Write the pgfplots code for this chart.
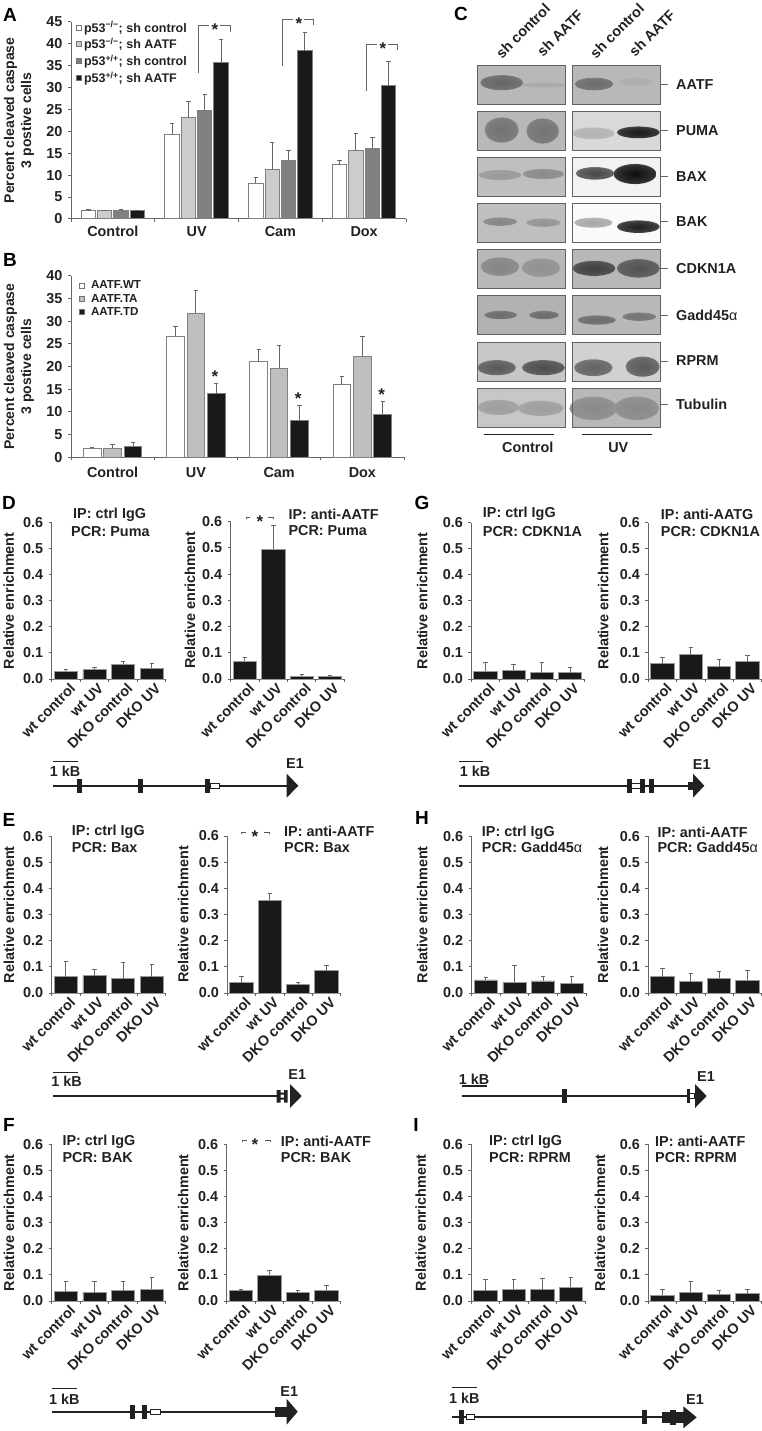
\documentclass[border=0pt]{standalone}
\usepackage{fontspec}
\setmainfont{Liberation Sans}
\usepackage{pgfplots}
\pgfplotsset{compat=1.18}
\newcommand\fa{\bfseries\fontsize{14.4}{16}\selectfont}
\newcommand\fb{\bfseries\fontsize{14}{17}\selectfont}
\definecolor{ink}{gray}{0.13}
\definecolor{axl}{gray}{0.4}
\definecolor{bar}{gray}{0.1}
\pgfplotsset{
 base/.style={scale only axis,anchor=south west,
  axis x line*=bottom,axis y line*=left,
  axis line style={axl,line width=1pt,-},
  tick style={axl,line width=1pt},tick align=outside,
  major tick length=3pt,minor tick length=3pt,
  major x tick style={draw=none},
  xmin=0,xmax=4,xtick={0.5,1.5,2.5,3.5},minor xtick={0,1,2,3,4},
  tick label style={font=\fa,text=ink},
  label style={text=ink},
  /pgf/number format/assume math mode=true,
  ylabel style={at={(axis description cs:0,0.5)},anchor=center,rotate=0},
  yticklabel style={xshift=-2pt},
  clip=false,ybar,
  error bars/y dir=plus,error bars/y explicit,
  error bars/error bar style={black!60,line width=1pt},
  error bars/error mark options={rotate=90,black!60,mark size=2.2pt,line width=1pt},
 },
 enrich/.style={base,ymin=0,ymax=0.6,ytick={0,0.1,0.2,0.3,0.4,0.5,0.6},
  /pgf/number format/fixed,/pgf/number format/fixed zerofill,/pgf/number format/precision=1,
  ylabel={Relative enrichment},ylabel style={font=\fa},
  xticklabels={wt control,wt UV,DKO control,DKO UV},
  xticklabel style={rotate=45,anchor=north east,inner sep=1pt,xshift=3pt,yshift=-1pt},
  bar width=23.3pt,
 },
 bars/.style={base,ylabel style={font=\fb,align=center},
  xticklabels={Control,UV,Cam,Dox},
  xticklabel style={yshift=-1pt},
  /pgf/number format/fixed,
  legend image code/.code={\draw[##1,draw=black!55,line width=.8pt] (0pt,-2.5pt) rectangle (5pt,2.5pt);},
 },
 barplot/.style={draw=black!50,line width=1pt},
}
\newcommand\enr[6]{\begin{axis}[enrich,at={(#1pt,-#2pt)},width=#3pt,height=#4pt,ylabel style={yshift=#5pt}]
 \addplot[fill=bar,draw=black!40,line width=.8pt] coordinates {#6};
\end{axis}}
% panel C shading
\pgfdeclareradialshading[bandin,bandout]{band}{\pgfpoint{0bp}{0bp}}{color(0bp)=(bandin); color(22bp)=(bandin!85!bandout); color(38bp)=(bandin!35!bandout); color(49bp)=(bandout); color(50bp)=(bandout)}
\newcommand\bx[3]{\fill[black!#3] ({450+#1/3},{#2/3}) rectangle ({450+(#1+264)/3},{(#2+116)/3});}
\newcommand\fr[2]{\draw[black!62,line width=1pt] ({450+#1/3},{#2/3}) rectangle ({450+(#1+264)/3},{(#2+116)/3});}
\newcommand\bd[6]{\colorlet{bandin}{black!#5}\colorlet{bandout}{black!#6}%
 \shade[shading=band] ({450+#1/3},{#2/3}) ellipse [x radius={#3*0.37pt},y radius={#4*0.42pt}];}
\newcommand\ex[2]{\fill[ink] (#1-2.5,#2-7) rectangle (#1+2.5,#2+7);}
\newcommand\obx[3]{\draw[ink,fill=white,line width=1pt] (#1,#3-2.5) rectangle (#2,#3+2.5);}
\newcommand\hd[4]{\fill[ink] (#1,#3-#4)--(#2,#3)--(#1,#3+#4)--cycle;}
\newcommand\gl[3]{\draw[ink,line width=1.7pt] (#1,#3)--(#2,#3);}
\newcommand\scl[3]{\draw[ink,line width=1.2pt] (#1,#3)--(#2,#3);}
\newcommand\lb[3]{\node[font=\fa,text=ink,inner sep=0pt] at (#1,#2) {#3};}
\newcommand\lw[3]{\node[font=\fa,text=ink,inner sep=0pt,anchor=west] at (#1,#2) {#3};}
\newcommand\stt[2]{\node[font=\bfseries\fontsize{17}{17}\selectfont,text=ink,inner sep=0pt] at (#1,#2+3) {*};}
\newcommand\pl[3]{\node[font=\bfseries\fontsize{19}{19}\selectfont,text=black,inner sep=0pt] at (#1,#2) {#3};}
\newcommand\brk[3]{\draw[black!65,line width=.9pt] (#1,#3+2)--(#1,#3)--(#1+4,#3) (#2-5,#3)--(#2,#3)--(#2,#3+2);}
\begin{document}
\begin{tikzpicture}
\path[use as bounding box] (0pt,0pt) rectangle (762pt,-1431pt);
% A
\begin{axis}[bars,at={(71pt,-219pt)},width=335pt,height=197.3pt,ymin=0,ymax=45,
  ytick={0,5,10,15,20,25,30,35,40,45},ylabel style={yshift=52pt},
  ylabel={Percent cleaved caspase\\3 postive cells},bar width=14.3pt,
  legend style={at={(5pt,200pt)},anchor=north west,draw=none,fill=none,inner sep=0pt,
   /tikz/every odd column/.append style={column sep=2pt},
   nodes={font=\bfseries\fontsize{12.5}{13}\selectfont,text=ink,minimum height=16.8pt,inner sep=0pt,anchor=west}},
  legend cell align=left]
\addplot[barplot,fill=white,bar shift=-24.5pt] coordinates {(0.5,2) +- (0,0.1) (1.5,19.2) +- (0,2.5) (2.5,8.2) +- (0,1.3) (3.5,12.4) +- (0,1.05)};
\addplot[barplot,fill=black!20,bar shift=-8.2pt] coordinates {(0.5,1.9) +- (0,0.1) (1.5,23.2) +- (0,3.6) (2.5,11.3) +- (0,6.1) (3.5,15.6) +- (0,3.8)};
\addplot[barplot,fill=black!50,bar shift=8.2pt] coordinates {(0.5,1.9) +- (0,0.3) (1.5,24.7) +- (0,3.8) (2.5,13.4) +- (0,2.3) (3.5,16.1) +- (0,2.5)};
\addplot[barplot,fill=bar,bar shift=24.5pt] coordinates {(0.5,1.9) +- (0,0.15) (1.5,35.7) +- (0,5.3) (2.5,38.4) +- (0,4.2) (3.5,30.5) +- (0,5.5)};
\legend{p53\textsuperscript{−/−}; sh control,p53\textsuperscript{−/−}; sh AATF,p53\textsuperscript{+/+}; sh control,p53\textsuperscript{+/+}; sh AATF}
\end{axis}
% B
\begin{axis}[bars,at={(71pt,-457.3pt)},width=333pt,height=181.6pt,ymin=0,ymax=40,
  ytick={0,5,10,15,20,25,30,35,40},ylabel style={yshift=52pt},
  xticklabel style={yshift=-2.5pt},
  ylabel={Percent cleaved caspase\\3 postive cells},bar width=17.7pt,
  legend style={at={(8pt,178.5pt)},anchor=north west,draw=none,fill=none,inner sep=0pt,
   /tikz/every odd column/.append style={column sep=6pt},
   nodes={font=\bfseries\fontsize{11.6}{11.6}\selectfont,text=ink,minimum height=13.3pt,inner sep=0pt,anchor=west}},
  legend cell align=left]
\addplot[barplot,fill=white,bar shift=-20.4pt] coordinates {(0.5,2) +- (0,0.2) (1.5,26.7) +- (0,2.1) (2.5,21.1) +- (0,2.6) (3.5,16) +- (0,1.9)};
\addplot[barplot,fill=black!25,bar shift=0pt] coordinates {(0.5,2) +- (0,0.9) (1.5,31.7) +- (0,5.1) (2.5,19.6) +- (0,5) (3.5,22.1) +- (0,4.4)};
\addplot[barplot,fill=bar,bar shift=20.4pt] coordinates {(0.5,2.4) +- (0,0.9) (1.5,14) +- (0,2.2) (2.5,8) +- (0,3.5) (3.5,9.5) +- (0,2.7)};
\legend{AATF.WT,AATF.TA,AATF.TD}
\end{axis}
% D
\enr{51.7}{679}{114.3}{156.3}{43}{(0.5,0.03) +- (0,0.007) (1.5,0.036) +- (0,0.009) (2.5,0.056) +- (0,0.012) (3.5,0.042) +- (0,0.016)}
\enr{230.7}{679}{113.6}{157.3}{40.7}{(0.5,0.068) +- (0,0.015) (1.5,0.495) +- (0,0.09) (2.5,0.01) +- (0,0.009) (3.5,0.01) +- (0,0.005)}
% G
\enr{471.3}{679}{113}{156.3}{49}{(0.5,0.03) +- (0,0.032) (1.5,0.034) +- (0,0.022) (2.5,0.024) +- (0,0.04) (3.5,0.024) +- (0,0.02)}
\enr{648.3}{679}{113.4}{156.3}{45}{(0.5,0.058) +- (0,0.025) (1.5,0.094) +- (0,0.026) (2.5,0.047) +- (0,0.029) (3.5,0.066) +- (0,0.024)}
% E
\enr{51.7}{993}{114.3}{156.7}{42.7}{(0.5,0.062) +- (0,0.06) (1.5,0.067) +- (0,0.023) (2.5,0.055) +- (0,0.06) (3.5,0.062) +- (0,0.048)}
\enr{227.3}{993}{113.4}{157}{44}{(0.5,0.04) +- (0,0.022) (1.5,0.354) +- (0,0.026) (2.5,0.032) +- (0,0.008) (3.5,0.086) +- (0,0.021)}
% H
\enr{471.7}{993}{114.3}{156.7}{49.4}{(0.5,0.05) +- (0,0.01) (1.5,0.042) +- (0,0.064) (2.5,0.046) +- (0,0.019) (3.5,0.036) +- (0,0.027)}
\enr{648.3}{993}{113.4}{156.7}{45.3}{(0.5,0.062) +- (0,0.033) (1.5,0.044) +- (0,0.032) (2.5,0.056) +- (0,0.027) (3.5,0.048) +- (0,0.037)}
% F
\enr{51.7}{1301}{114.3}{156.7}{42.7}{(0.5,0.036) +- (0,0.038) (1.5,0.032) +- (0,0.041) (2.5,0.04) +- (0,0.033) (3.5,0.046) +- (0,0.044)}
\enr{226.7}{1301}{114}{156.7}{43.4}{(0.5,0.04) +- (0,0.006) (1.5,0.098) +- (0,0.019) (2.5,0.032) +- (0,0.01) (3.5,0.042) +- (0,0.016)}
% I
\enr{471.3}{1301}{113.7}{156.7}{50.6}{(0.5,0.04) +- (0,0.042) (1.5,0.046) +- (0,0.037) (2.5,0.044) +- (0,0.041) (3.5,0.052) +- (0,0.038)}
\enr{648.3}{1301}{113.4}{156.7}{48.3}{(0.5,0.022) +- (0,0.024) (1.5,0.034) +- (0,0.042) (2.5,0.026) +- (0,0.016) (3.5,0.028) +- (0,0.018)}
\begin{scope}[x=1pt,y=-1pt]
% letters
\pl{10}{15}{A}\pl{10}{260}{B}\pl{461}{14}{C}\pl{9}{503}{D}\pl{9}{820}{E}\pl{9}{1125}{F}
\pl{422}{503}{G}\pl{422}{818}{H}\pl{416}{1125}{I}
% brackets A
\draw[black!60,line width=.9pt] (198.7,72.7)--(198.7,25)--(209.3,25) (220,25)--(230,25)--(230,31.7);
\draw[black!60,line width=.9pt] (282.7,66)--(282.7,19.3)--(293,19.3) (304,19.3)--(313.3,19.3)--(313.3,25);
\draw[black!60,line width=.9pt] (366.7,91)--(366.7,44.3)--(377,44.3) (388,44.3)--(397.3,44.3)--(397.3,50);
\stt{215}{27}\stt{299}{20.5}\stt{383}{46}
% stars B
\stt{215}{373.5}\stt{298.3}{396}\stt{381.7}{392}
% brackets enrichment
\brk{246}{273}{517}\stt{260}{519}
\brk{241.7}{269.3}{832}\stt{255}{834}
\brk{242.7}{270}{1140}\stt{255}{1142}
% titles
\lw{73}{515}{IP: ctrl IgG}\lw{71}{531.7}{PCR: Puma}
\lw{288.3}{514}{IP: anti-AATF}\lw{288.3}{530.7}{PCR: Puma}
\lw{482.7}{514}{IP: ctrl IgG}\lw{482.7}{531.7}{PCR: CDKN1A}
\lw{660.7}{514}{IP: anti-AATG}\lw{660.7}{531.7}{PCR: CDKN1A}
\lw{71.7}{831.7}{IP: ctrl IgG}\lw{71.7}{847.3}{PCR: Bax}
\lw{284}{831.7}{IP: anti-AATF}\lw{284}{847.3}{PCR: Bax}
\lw{481.7}{832.3}{IP: ctrl IgG}\lw{481.7}{847.7}{PCR: Gadd45{\mdseries α}}
\lw{657.3}{832.3}{IP: anti-AATF}\lw{657.3}{847.7}{PCR: Gadd45{\mdseries α}}
\lw{62.3}{1141.7}{IP: ctrl IgG}\lw{62.3}{1157.3}{PCR: BAK}
\lw{280.7}{1141.7}{IP: anti-AATF}\lw{280.7}{1157.3}{PCR: BAK}
\lw{489}{1141.7}{IP: ctrl IgG}\lw{489}{1157.3}{PCR: RPRM}
\lw{655}{1141.7}{IP: anti-AATF}\lw{655}{1157.3}{PCR: RPRM}
% genes D
\scl{53.3}{77.7}{761.7}\lb{65}{771.7}{1 kB}\gl{53.3}{287}{785.7}\ex{79.3}{785.7}\ex{140}{785.7}\ex{207.3}{785.7}\obx{210}{219}{785.7}\hd{286.7}{298.3}{785.7}{12}\lb{295}{764}{E1}
% G
\scl{459.3}{482.7}{761.7}\lb{475}{771.7}{1 kB}\gl{459.3}{690}{785.7}\ex{629.7}{785.7}\obx{631.7}{640}{785.7}\ex{642}{785.7}\ex{651.3}{785.7}\fill[ink] (688,782) rectangle (694,789.5);\hd{693}{704.3}{785.7}{12}\lb{701.7}{765}{E1}
% E
\scl{53.3}{77.7}{1072.3}\lb{66.7}{1081.7}{1 kB}\gl{53.3}{278}{1096}\fill[ink] (276.7,1090) rectangle (280.7,1102.5) (284,1090) rectangle (287.5,1102.5) (280,1092.5) rectangle (285,1094.5) (280,1097.5) rectangle (285,1099.5);\hd{290}{301.7}{1096}{12}\lb{297.3}{1074.3}{E1}
% H
\lb{474}{1079.3}{1 kB}\scl{461.7}{486.7}{1086}\gl{461.7}{690}{1096}\ex{564.3}{1096}\fill[ink] (686.5,1089) rectangle (690,1103);\obx{689}{694}{1096}\hd{695}{706.7}{1096}{12}\lb{706}{1076.7}{E1}
% F
\scl{51.7}{76.7}{1388.3}\lb{64.3}{1399.3}{1 kB}\gl{51.7}{280}{1411.7}\ex{132.3}{1411.7}\ex{144}{1411.7}\obx{150.7}{160}{1411.7}\fill[ink] (275,1406.5) rectangle (287,1417);\hd{286.7}{297.7}{1411.7}{12.8}\lb{289.3}{1391.7}{E1}
% I
\scl{451.7}{476.7}{1387.3}\lb{464.3}{1398.3}{1 kB}\gl{451.7}{665}{1417.3}\ex{461.7}{1417.3}\obx{466}{474}{1417.3}\ex{644.3}{1417.3}\fill[ink] (661.7,1412) rectangle (684,1423);\fill[ink] (670,1410) rectangle (676,1425);\hd{683.3}{696.7}{1417.3}{11}\lb{695}{1399.3}{E1}
% C blots
\bx{83}{197}{28}\bx{367}{197}{28}
\bx{83}{335}{28}\bx{367}{335}{15}
\bx{83}{473}{25}\bx{367}{473}{5}
\bx{83}{611}{25}\bx{367}{611}{2}
\bx{83}{749}{28}\bx{367}{749}{28}
\bx{83}{887}{30}\bx{367}{887}{28}
\bx{83}{1027}{22}\bx{367}{1027}{18}
\bx{83}{1165}{22}\bx{367}{1165}{28}
\bd{155}{248}{58}{18}{60}{28}\bd{280}{255}{58}{6}{34}{28}\bd{432}{252}{52}{15}{58}{28}\bd{555}{245}{45}{9}{32}{28}
\bd{155}{390}{46}{30}{55}{28}\bd{278}{393}{44}{30}{55}{28}\bd{430}{400}{58}{14}{30}{15}\bd{565}{397}{58}{14}{90}{15}
\bd{150}{525}{58}{12}{40}{25}\bd{280}{522}{56}{12}{46}{25}\bd{435}{520}{52}{15}{72}{5}\bd{555}{522}{58}{24}{95}{5}
\bd{150}{665}{46}{10}{48}{25}\bd{280}{668}{46}{10}{42}{25}\bd{430}{668}{52}{12}{35}{2}\bd{565}{680}{58}{15}{88}{2}
\bd{150}{800}{52}{22}{48}{28}\bd{273}{803}{52}{22}{43}{28}\bd{432}{805}{58}{18}{75}{28}\bd{565}{805}{58}{22}{68}{28}
\bd{152}{945}{44}{10}{58}{30}\bd{282}{945}{40}{10}{58}{30}\bd{440}{960}{52}{11}{58}{28}\bd{568}{950}{46}{10}{55}{28}
\bd{140}{1103}{52}{18}{65}{22}\bd{280}{1103}{58}{18}{70}{22}\bd{430}{1103}{52}{20}{62}{18}\bd{578}{1100}{46}{24}{65}{18}
\bd{145}{1222}{56}{18}{38}{22}\bd{272}{1225}{62}{18}{38}{22}\bd{430}{1225}{64}{28}{46}{28}\bd{560}{1225}{60}{28}{46}{28}
\fr{83}{197}\fr{367}{197}\fr{83}{335}\fr{367}{335}\fr{83}{473}\fr{367}{473}\fr{83}{611}\fr{367}{611}
\fr{83}{749}\fr{367}{749}\fr{83}{887}\fr{367}{887}\fr{83}{1027}\fr{367}{1027}\fr{83}{1165}\fr{367}{1165}
% C labels
\foreach \yy/\txt in {85/AATF,130.7/PUMA,176.7/BAX,222/BAK,268.7/CDKN1A,315/{Gadd45{\mdseries α}},361/RPRM,404.3/Tubulin}{
 \draw[black!60,line width=1pt] (661,\yy)--(668.3,\yy);
 \lw{676}{\yy}{\txt}
}
\node[font=\fa,text=ink,inner sep=0pt,rotate=45] at (523,31) {sh control};
\node[font=\fa,text=ink,inner sep=0pt,rotate=45] at (560,33) {sh AATF};
\node[font=\fa,text=ink,inner sep=0pt,rotate=45] at (617,31) {sh control};
\node[font=\fa,text=ink,inner sep=0pt,rotate=45] at (652,33) {sh AATF};
\draw[ink,line width=1.2pt] (484.3,434.3)--(554.3,434.3) (581.7,434.3)--(651.7,434.3);
\lb{527.7}{447.3}{Control}\lb{618.3}{447.3}{UV}
\end{scope}
\end{tikzpicture}
\end{document}
